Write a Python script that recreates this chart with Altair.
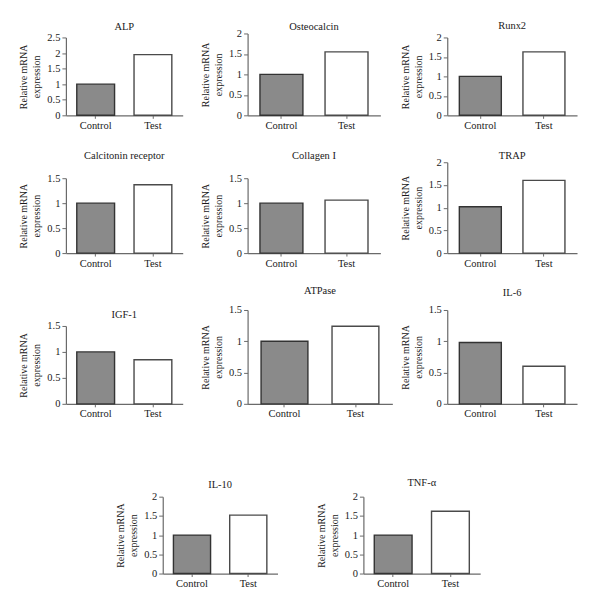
import altair as alt
import pandas as pd

# ---------------- data ----------------
genes = ["ALP", "Osteocalcin", "Runx2", "Calcitonin receptor", "Collagen I", "TRAP",
         "IGF-1", "ATPase", "IL-6", "IL-10", "TNF-α"]
groups = ["Control", "Test"]
control_values = [1.0, 1.0, 1.0, 1.0, 1.0, 1.02, 1.0, 1.0, 0.98, 1.0, 1.0]
test_values = [1.95, 1.55, 1.63, 1.37, 1.06, 1.6, 0.85, 1.24, 0.6, 1.52, 1.62]
y_max = [2.5, 2, 2, 1.5, 1.5, 2, 1.5, 1.5, 1.5, 2, 2]
tick_labels = [0, 0.5, 1, 1.5, 2, 2.5]
y_title = ["Relative mRNA", "expression"]

# ---------------- layout (page pixels) ----------------
grid_row = [0, 0, 0, 1, 1, 1, 2, 2, 2, 3, 3]
grid_col = [0, 1, 2, 0, 1, 2, 0, 1, 2, 0, 1]
col_left = [65, 247, 447]
col_width = [182, 200, 140]
row_top = [20, 115, 253, 404]
row_bottom = [115, 253, 404, 574]
axis_x = [65, 247, 447, 65, 247, 447, 65, 247, 447, 162, 363]
plot_w = [117, 133, 130, 117, 133, 130, 117, 145, 130, 115, 117]
plot_top = [37, 33, 37, 178, 178, 162, 326, 310, 310, 497, 497]
title_y = [26, 26, 25, 155, 155, 155, 315, 290, 292, 485, 483]
TITLE_SHIFT = 11

FONT = "Liberation Serif"
CTRL_FILL, TEST_FILL = "#8a8a8a", "#ffffff"
CTRL_STROKE, TEST_STROKE = "#333333", "#4a4a4a"


def panel(i):
    r, c = grid_row[i], grid_col[i]
    gw = col_width[c]
    h = row_bottom[r] - row_top[r]
    x0 = axis_x[i] - col_left[c]
    top = plot_top[i] - row_top[r]
    df = pd.DataFrame({"group": groups, "value": [control_values[i], test_values[i]]})
    title = alt.TitleParams(
        genes[i], frame="group", anchor="middle", baseline="middle", offset=0,
        dx=x0 + plot_w[i] / 2 - gw / 2, dy=title_y[i] - row_top[r] + TITLE_SHIFT,
        font=FONT, fontSize=10.5, fontWeight="normal", color="#1a1a1a",
    )
    return alt.Chart(df, title=title).mark_bar(strokeWidth=1.4).encode(
        x=alt.X(
            "group:N", sort=groups,
            scale=alt.Scale(range=[x0, x0 + plot_w[i]], paddingInner=0.34, paddingOuter=0.19),
            axis=alt.Axis(title=None, labelAngle=0, tickSize=3, labelPadding=2,
                          bandPosition=0.5),
        ),
        y=alt.Y(
            "value:Q",
            scale=alt.Scale(domain=[0, y_max[i]], range=[h, top], nice=False, zero=True),
            axis=alt.Axis(values=[t for t in tick_labels if t <= y_max[i]], format="~g",
                          title=y_title, offset=-x0, tickSize=4, labelPadding=2,
                          titlePadding=5, titleLineHeight=13),
        ),
        fill=alt.Fill("group:N", sort=groups,
                      scale=alt.Scale(domain=groups, range=[CTRL_FILL, TEST_FILL]), legend=None),
        stroke=alt.Stroke("group:N", sort=groups,
                          scale=alt.Scale(domain=groups, range=[CTRL_STROKE, TEST_STROKE]),
                          legend=None),
    ).properties(width=gw, height=h)


chart = alt.concat(
    *[panel(i) for i in range(len(genes))], columns=3, spacing=0, bounds="flush", align="each"
).properties(
    padding={"left": 10, "top": 12, "right": 5, "bottom": 5},
    background="#ffffff",
).configure_view(stroke=None).configure_axis(
    grid=False, domainColor="#6a6a6a", tickColor="#6a6a6a", domainWidth=1.2,
    labelFont=FONT, labelFontSize=10.5, labelColor="#1a1a1a",
    titleFont=FONT, titleFontSize=10, titleFontWeight="normal", titleColor="#1a1a1a",
)

chart.save("out.html", embed_options={"renderer": "svg", "actions": False})
